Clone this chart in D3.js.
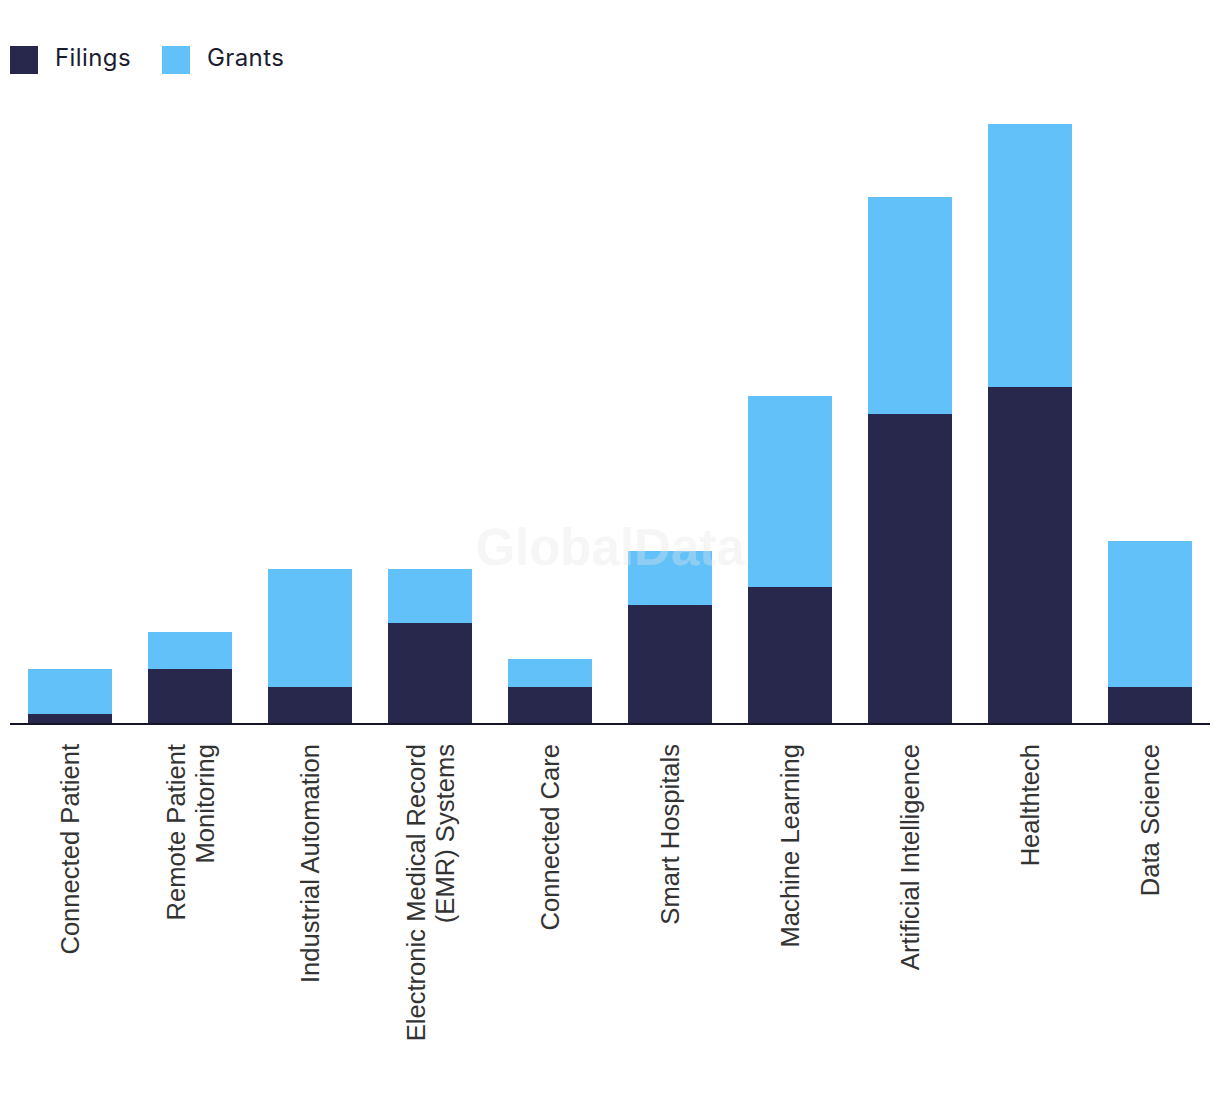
<!DOCTYPE html>
<html>
<head>
<meta charset="utf-8">
<script src="https://cdn.jsdelivr.net/npm/d3@7"></script>
<style>
  html, body { margin: 0; padding: 0; background: #ffffff; }
  svg { display: block; }
</style>
</head>
<body>
<svg id="chart" width="1220" height="1094"></svg>
<script>
const categories = [
  "Connected Patient",
  "Remote Patient\nMonitoring",
  "Industrial Automation",
  "Electronic Medical Record\n(EMR) Systems",
  "Connected Care",
  "Smart Hospitals",
  "Machine Learning",
  "Artificial Intelligence",
  "Healthtech",
  "Data Science"
];
const filings = [1, 6, 4, 11, 4, 13, 15, 34, 37, 4];
const grants  = [5, 4, 13, 6, 3, 6, 21, 24, 29, 16];
const seriesNames = ["Filings", "Grants"];
const seriesColors = ["#27284b", "#62c1f9"];

const svg = d3.select("#chart");
const baseline = 723;
const x = d3.scaleBand().domain(categories).range([10, 1210]).paddingInner(0.3).paddingOuter(0.15);
const totals = categories.map((c, i) => filings[i] + grants[i]);
const y = d3.scaleLinear().domain([0, d3.max(totals)]).range([baseline, 124]);

const rows = categories.map((c, i) => ({ cat: c, Filings: filings[i], Grants: grants[i] }));
const stack = d3.stack().keys(seriesNames)(rows);
const color = d3.scaleOrdinal().domain(seriesNames).range(seriesColors);

svg.append("g").selectAll("g").data(stack).join("g")
  .attr("fill", d => color(d.key))
  .selectAll("rect").data(d => d).join("rect")
  .attr("x", d => x(d.data.cat))
  .attr("width", x.bandwidth())
  .attr("y", d => Math.round(y(d[1])))
  .attr("height", d => Math.round(y(d[0])) - Math.round(y(d[1])));

// watermark
svg.append("text")
  .attr("x", 610).attr("y", 565)
  .attr("text-anchor", "middle")
  .attr("font-family", "Liberation Sans, Arial, sans-serif")
  .attr("font-weight", "bold")
  .attr("font-size", 51)
  .attr("fill", "#e6e6e6")
  .attr("fill-opacity", 0.35)
  .text("GlobalData");

// x axis baseline
svg.append("line")
  .attr("x1", 10).attr("x2", 1210)
  .attr("y1", baseline + 1).attr("y2", baseline + 1)
  .attr("stroke", "#14142b").attr("stroke-width", 2);

// x labels
const lineH = 29;
categories.forEach(c => {
  const lines = c.split("\n");
  const cx = x(c) + x.bandwidth() / 2;
  const n = lines.length;
  lines.forEach((ln, j) => {
    const off = (j - (n - 1) / 2) * lineH;
    svg.append("text")
      .attr("transform", `translate(${cx + off + 9},744) rotate(-90)`)
      .attr("text-anchor", "end")
      .attr("font-family", "Liberation Sans, Arial, sans-serif")
      .attr("font-size", 25.6)
      .attr("fill", "#333333")
      .text(ln);
  });
});

// legend
const legendX = [10, 162];
seriesNames.forEach((s, i) => {
  const g = svg.append("g").attr("transform", `translate(${legendX[i]},46)`);
  g.append("rect").attr("width", 28).attr("height", 28).attr("fill", seriesColors[i]);
  g.append("text").attr("x", 45).attr("y", 20)
    .attr("font-family", "Inter, Roboto, sans-serif")
    .attr("font-size", 24)
    .attr("letter-spacing", 0.4)
    .attr("fill", "#1c1c30")
    .text(s);
});
</script>
</body>
</html>
